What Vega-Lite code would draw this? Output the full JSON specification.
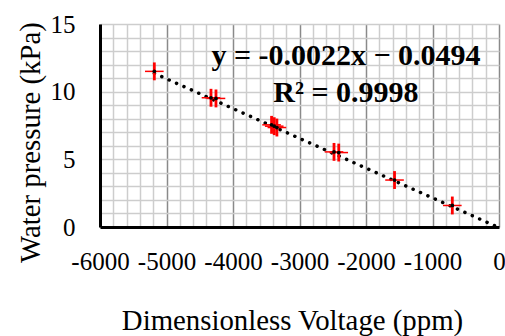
{
  "$schema": "https://vega.github.io/schema/vega-lite/v6.json",
  "width": 399,
  "height": 203,
  "autosize": {"type": "none"},
  "padding": {"left": 100, "top": 24, "right": 6, "bottom": 109},
  "background": "white",
  "config": {
    "view": {"stroke": null},
    "font": "Liberation Serif",
    "axis": {
      "labelFont": "Liberation Serif",
      "titleFont": "Liberation Serif",
      "labelColor": "black",
      "titleColor": "black",
      "labelFontSize": 25,
      "titleFontSize": 28.8,
      "titleFontWeight": "normal",
      "ticks": false,
      "tickSize": 0,
      "domainColor": "black",
      "domainWidth": 3,
      "labelOverlap": false,
      "labelFlush": false
    }
  },
  "datasets": {
    "pts": [
      {"v": -5183, "p": 11.5, "vlo": -5323, "vhi": -5043, "plo": 10.84, "phi": 12.16},
      {"v": -4331, "p": 9.55, "vlo": -4471, "vhi": -4191, "plo": 8.89, "phi": 10.21},
      {"v": -4256, "p": 9.5, "vlo": -4396, "vhi": -4116, "plo": 8.84, "phi": 10.16},
      {"v": -3420, "p": 7.55, "vlo": -3560, "vhi": -3280, "plo": 6.89, "phi": 8.21},
      {"v": -3380, "p": 7.45, "vlo": -3520, "vhi": -3240, "plo": 6.79, "phi": 8.11},
      {"v": -3340, "p": 7.35, "vlo": -3480, "vhi": -3200, "plo": 6.69, "phi": 8.01},
      {"v": -2481, "p": 5.55, "vlo": -2621, "vhi": -2341, "plo": 4.89, "phi": 6.21},
      {"v": -2410, "p": 5.5, "vlo": -2550, "vhi": -2270, "plo": 4.84, "phi": 6.16},
      {"v": -1571, "p": 3.47, "vlo": -1711, "vhi": -1431, "plo": 2.81, "phi": 4.13},
      {"v": -702, "p": 1.59, "vlo": -842, "vhi": -562, "plo": 0.93, "phi": 2.25}
    ],
    "trend": [
      {"v": -5183, "p": 11.353},
      {"v": 0, "p": -0.0494}
    ],
    "eq": [
      {"v": -2301, "p": 11.97, "t": "y = -0.0022x − 0.0494"},
      {"v": -2301, "p": 9.26, "t": "R² = 0.9998"}
    ]
  },
  "encoding": {
    "x": {
      "field": "v",
      "type": "quantitative",
      "scale": {"domain": [-6000, 0], "nice": false, "zero": false},
      "axis": {
        "title": "Dimensionless Voltage (ppm)",
        "values": [-6000, -5800, -5600, -5400, -5200, -5000, -4800, -4600, -4400, -4200, -4000, -3800, -3600, -3400, -3200, -3000, -2800, -2600, -2400, -2200, -2000, -1800, -1600, -1400, -1200, -1000, -800, -600, -400, -200, 0],
        "labelExpr": "datum.value % 1000 == 0 ? toString(datum.value) : ''",
        "labelPadding": 42,
        "labelBaseline": "alphabetic",
        "grid": true,
        "gridColor": {"condition": {"test": "datum.value % 1000 == 0", "value": "#8a8a8a"}, "value": "#cdcdcd"},
        "gridWidth": 1.5,
        "titleX": 192,
        "titleY": 102,
        "titleBaseline": "alphabetic",
        "titleAnchor": null
      }
    },
    "y": {
      "field": "p",
      "type": "quantitative",
      "scale": {"domain": [0, 15], "nice": false, "zero": false},
      "axis": {
        "title": "Water pressure (kPa)",
        "values": [0, 1, 2, 3, 4, 5, 6, 7, 8, 9, 10, 11, 12, 13, 14, 15],
        "labelExpr": "datum.value % 5 == 0 ? datum.label : ''",
        "labelPadding": 25,
        "grid": true,
        "gridColor": "#cdcdcd",
        "gridWidth": 1.5,
        "titleX": -61,
        "titleY": 118,
        "titleAngle": -90,
        "titleAlign": "center",
        "titleBaseline": "alphabetic"
      }
    }
  },
  "layer": [
    {
      "data": {"name": "trend"},
      "mark": {"type": "line", "color": "black", "strokeWidth": 3.5, "strokeDash": [0.1, 8], "strokeCap": "round", "clip": true},
      "encoding": {}
    },
    {
      "data": {"name": "pts"},
      "mark": {"type": "rule", "color": "#ff0000", "strokeWidth": 1.5},
      "encoding": {"x": {"field": "vlo", "type": "quantitative"}, "x2": {"field": "vhi"}}
    },
    {
      "data": {"name": "pts"},
      "mark": {"type": "rule", "color": "#ff0000", "strokeWidth": 2.8},
      "encoding": {"y": {"field": "plo", "type": "quantitative"}, "y2": {"field": "phi"}}
    },
    {
      "data": {"name": "pts"},
      "mark": {"type": "point", "filled": true, "color": "black", "size": 14, "opacity": 1}
    },
    {
      "data": {"name": "eq"},
      "mark": {"type": "text", "font": "Liberation Serif", "fontWeight": "bold", "fontSize": 30, "align": "center", "baseline": "alphabetic", "color": "black"},
      "encoding": {"text": {"field": "t"}}
    }
  ]
}
